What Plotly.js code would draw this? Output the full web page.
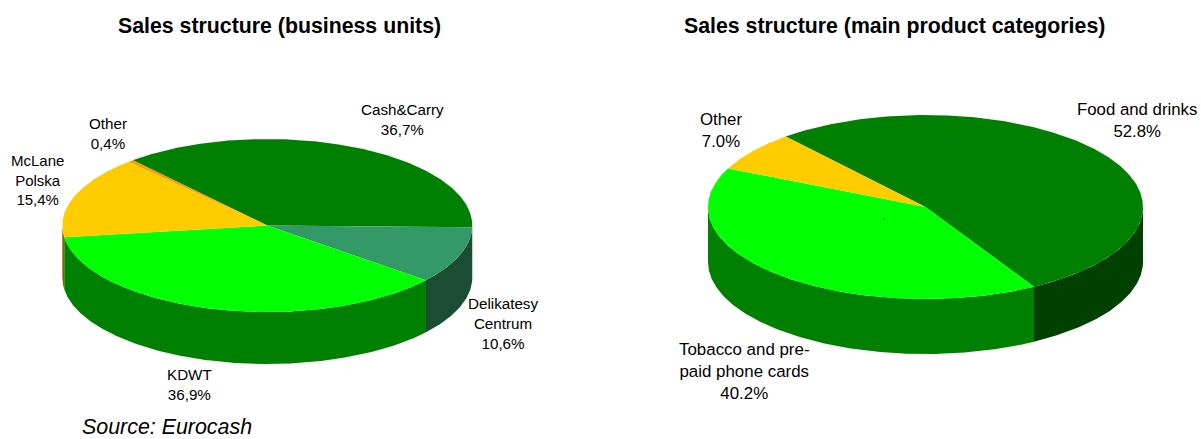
<!DOCTYPE html>
<html>
<head>
<meta charset="utf-8">
<script src="https://cdn.plot.ly/plotly-3.0.1.min.js"></script>
<style>html,body{margin:0;padding:0;background:#fff}#chart{width:1201px;height:439px}</style>
</head>
<body>
<div id="chart"></div>
<script>
// Sales shares, in percent
const unitNames = ['Cash&Carry', 'Delikatesy Centrum', 'KDWT', 'McLane Polska', 'Other'];
const unitShares = [36.7, 10.6, 36.9, 15.4, 0.4];
const unitTopColors = ['#008000', '#339966', '#00FF00', '#FFCC00', '#FF9900'];
const unitSideColors = ['#004000', '#1A4D33', '#008000', '#806600', '#804D00'];

const productNames = ['Food and drinks', 'Tobacco and pre-paid phone cards', 'Other'];
const productShares = [52.8, 40.2, 7.0];
const productTopColors = ['#008000', '#00FF00', '#FFCC00'];
const productSideColors = ['#004000', '#008000', '#806600'];

const FONT = 'Liberation Sans, Arial, sans-serif';

// Tilted disc geometry, in plot units (the axes below run 1:1 with the page)
const unitDisc = {cx: 267.3, cy: 225.5, rx: 205, ry: 86.5, depth: 52, start: -41};
const productDisc = {cx: 925.5, cy: 207, rx: 217.5, ry: 92, depth: 55, start: -40};

// Angle is measured clockwise from the back of the disc
function rimPoint(d, deg, drop) {
  const a = deg * Math.PI / 180;
  return [d.cx + d.rx * Math.sin(a), d.cy - d.ry * Math.cos(a) + drop];
}
function arc(d, from, to, drop) {
  const pts = [];
  const n = Math.max(2, Math.ceil(Math.abs(to - from) * 2));
  for (let i = 0; i <= n; i++) pts.push(rimPoint(d, from + (to - from) * i / n, drop));
  return pts;
}
function polygon(pts, color, name) {
  const x = pts.map(p => p[0]).concat(pts[0][0]);
  const y = pts.map(p => p[1]).concat(pts[0][1]);
  return {type: 'scatter', mode: 'lines', x, y, name, fill: 'toself', fillcolor: color,
          line: {width: 0, color}, hoverinfo: 'name', showlegend: false};
}
function discTraces(d, names, shares, tops, sides) {
  const total = shares.reduce((s, v) => s + v, 0);
  const sideTraces = [], topTraces = [];
  let angle = d.start;
  shares.forEach((v, i) => {
    const end = angle + v / total * 360;
    // The wall is only visible along the front half of the rim
    const from = Math.max(angle, 90), to = Math.min(end, 270);
    if (to > from) {
      const wall = arc(d, from, to, 0).concat(arc(d, to, from, d.depth));
      sideTraces.push(polygon(wall, sides[i], names[i] + ' (side)'));
    }
    topTraces.push(polygon([[d.cx, d.cy]].concat(arc(d, angle, end, 0)), tops[i], names[i]));
    angle = end;
  });
  return sideTraces.concat(topTraces);
}

const comma = v => v.toFixed(1).replace('.', ',') + '%';
const dot = v => v.toFixed(1) + '%';

function note(text, x, y, size, extra) {
  return Object.assign({text, x, y, xref: 'x', yref: 'y', showarrow: false, xanchor: 'center',
    yanchor: 'middle', align: 'center', font: {family: FONT, size, color: '#000'}}, extra || {});
}

const annotations = [
  note('<b>Sales structure (business units)</b>', 279.5, 26, 21.3),
  note('<b>Sales structure (main product categories)</b>', 894, 26, 21.3),
  note(unitNames[0] + '<br>' + comma(unitShares[0]), 402.5, 119.5, 15.2),
  note('Delikatesy<br>Centrum<br>' + comma(unitShares[1]), 503, 323, 15.2),
  note(unitNames[2] + '<br>' + comma(unitShares[2]), 189, 384, 15.2),
  note('McLane<br>Polska<br>' + comma(unitShares[3]), 37, 180, 15),
  note(unitNames[4] + '<br>' + comma(unitShares[4]), 108, 133, 15.2),
  note(productNames[0] + '<br>' + dot(productShares[0]), 1137, 120, 16.8),
  note('Tobacco and pre-<br>paid phone cards<br>' + dot(productShares[1]), 744.5, 371, 16.9),
  note(productNames[2] + '<br>' + dot(productShares[2]), 721, 130, 16.8),
  note('<i>Source: Eurocash</i>', 80, 427, 21.4, {xanchor: 'left'})
];

const data = discTraces(unitDisc, unitNames, unitShares, unitTopColors, unitSideColors)
  .concat(discTraces(productDisc, productNames, productShares, productTopColors, productSideColors));

const hidden = {visible: false, fixedrange: true};
const layout = {
  width: 1201, height: 439,
  margin: {l: 0, r: 0, t: 0, b: 0},
  paper_bgcolor: '#fff', plot_bgcolor: '#fff',
  showlegend: false,
  xaxis: Object.assign({range: [0, 1201]}, hidden),
  yaxis: Object.assign({range: [439, 0]}, hidden),
  annotations,
  // Small stray tick on the right-hand disc
  shapes: [{type: 'line', xref: 'x', yref: 'y', x0: 883.5, y0: 218.5, x1: 885, y1: 220,
            line: {color: '#000', width: 1}}]
};
Plotly.newPlot('chart', data, layout, {displayModeBar: false, responsive: false});
</script>
</body>
</html>
